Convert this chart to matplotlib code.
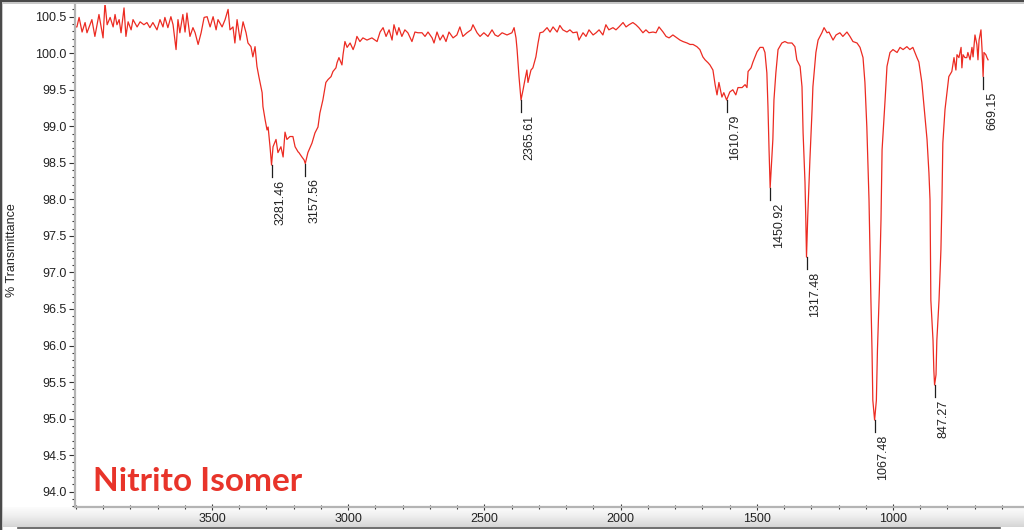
import matplotlib
matplotlib.use("Agg")
import matplotlib.pyplot as plt
from matplotlib.ticker import MultipleLocator, FixedLocator, FormatStrFormatter
from matplotlib.patches import Rectangle
from matplotlib.lines import Line2D
import numpy as np

plt.rcParams['font.family'] = ['Liberation Sans', 'DejaVu Sans']

# spectrum (cm-1, % T)
wavenumber = [
    4000, 3996, 3988, 3977, 3966, 3959, 3941, 3930, 3915, 3900, 3893, 3885, 3874, 3863, 3856, 3849,
    3841, 3834, 3823, 3816, 3808, 3797, 3790, 3775, 3764, 3750, 3739, 3728, 3717, 3702, 3691, 3680,
    3673, 3662, 3651, 3643, 3632, 3625, 3618, 3607, 3599, 3592, 3581, 3570, 3562, 3551, 3540, 3529,
    3518, 3507, 3496, 3485, 3478, 3463, 3452, 3441, 3434, 3423, 3416, 3408, 3397, 3386, 3375, 3368,
    3357, 3350, 3342, 3335, 3328, 3316, 3313, 3305, 3298, 3294, 3287, 3281.46, 3276, 3265, 3258, 3247,
    3239, 3232, 3225, 3214, 3203, 3195, 3184, 3181, 3170, 3162, 3157.56, 3148, 3133, 3122, 3111, 3104,
    3093, 3082, 3074, 3063, 3056, 3045, 3041, 3034, 3023, 3019, 3012, 3004, 2993, 2982, 2975, 2968,
    2957, 2946, 2931, 2913, 2894, 2883, 2872, 2861, 2850, 2839, 2832, 2821, 2814, 2803, 2792, 2781,
    2766, 2755, 2744, 2729, 2718, 2707, 2692, 2685, 2674, 2663, 2652, 2641, 2630, 2615, 2601, 2590,
    2579, 2564, 2549, 2542, 2527, 2516, 2502, 2487, 2472, 2461, 2450, 2435, 2417, 2399, 2391, 2384,
    2380, 2373, 2369, 2365.61, 2358, 2351, 2344, 2340, 2329, 2322, 2311, 2303, 2296, 2285, 2270, 2259,
    2248, 2233, 2223, 2212, 2197, 2186, 2175, 2160, 2153, 2138, 2127, 2116, 2101, 2090, 2079, 2065,
    2054, 2043, 2028, 2017, 2006, 1991, 1980, 1969, 1955, 1944, 1933, 1918, 1907, 1896, 1881, 1870,
    1859, 1844, 1833, 1822, 1808, 1793, 1782, 1771, 1756, 1745, 1734, 1720, 1709, 1698, 1690, 1679,
    1672, 1661, 1653, 1646, 1639, 1628, 1621, 1610.79, 1599, 1588, 1577, 1569, 1554, 1543, 1536, 1532,
    1521, 1514, 1499, 1488, 1477, 1470, 1463, 1459, 1455, 1450.92, 1448, 1441, 1437, 1430, 1422, 1408,
    1397, 1386, 1371, 1360, 1353, 1341, 1334, 1330, 1323, 1320, 1317.48, 1313, 1305, 1297, 1294, 1283,
    1275, 1261, 1253, 1242, 1235, 1220, 1209, 1195, 1184, 1169, 1158, 1147, 1132, 1121, 1110, 1103,
    1096, 1088, 1081, 1077, 1074, 1067.48, 1061, 1057, 1050, 1044, 1040, 1029, 1022, 1011, 1000, 985,
    974, 963, 949, 938, 927, 912, 905, 894, 886, 875, 868, 864, 861, 853, 850, 847.27,
    842, 839, 831, 824, 820, 817, 809, 802, 795, 784, 776, 769, 765, 758, 750, 747,
    743, 736, 729, 725, 717, 710, 706, 699, 692, 688, 684, 677, 673, 669.15, 666, 659,
    655, 651,
]
transmittance = [
    100.36, 100.36, 100.49, 100.29, 100.42, 100.28, 100.46, 100.23, 100.53, 100.21, 100.69, 100.39, 100.49, 100.36, 100.53, 100.39,
    100.46, 100.28, 100.62, 100.23, 100.43, 100.32, 100.46, 100.36, 100.43, 100.39, 100.42, 100.35, 100.42, 100.32, 100.46, 100.36,
    100.49, 100.35, 100.50, 100.39, 100.05, 100.46, 100.28, 100.53, 100.29, 100.55, 100.23, 100.35, 100.28, 100.12, 100.28, 100.49,
    100.50, 100.36, 100.50, 100.32, 100.46, 100.36, 100.46, 100.60, 100.32, 100.36, 100.14, 100.46, 100.18, 100.43, 100.28, 100.14,
    100.09, 99.95, 100.09, 99.82, 99.68, 99.46, 99.27, 99.09, 98.95, 98.99, 98.72, 98.47, 98.72, 98.82, 98.64, 98.72,
    98.58, 98.92, 98.82, 98.86, 98.86, 98.72, 98.65, 98.64, 98.58, 98.54, 98.49, 98.64, 98.77, 98.91, 98.99, 99.18,
    99.36, 99.60, 99.64, 99.68, 99.75, 99.80, 99.87, 99.94, 99.84, 99.98, 100.16, 100.08, 100.14, 100.05, 100.12, 100.23,
    100.16, 100.21, 100.18, 100.21, 100.16, 100.29, 100.35, 100.23, 100.32, 100.18, 100.39, 100.25, 100.35, 100.23, 100.32, 100.28,
    100.16, 100.29, 100.28, 100.28, 100.23, 100.29, 100.21, 100.14, 100.29, 100.18, 100.25, 100.16, 100.29, 100.21, 100.25, 100.36,
    100.23, 100.28, 100.32, 100.39, 100.28, 100.23, 100.28, 100.23, 100.32, 100.25, 100.23, 100.28, 100.25, 100.28, 100.35, 100.21,
    100.05, 99.68, 99.50, 99.36, 99.50, 99.64, 99.77, 99.60, 99.77, 99.80, 99.95, 100.14, 100.28, 100.29, 100.35, 100.29,
    100.36, 100.29, 100.38, 100.32, 100.29, 100.32, 100.28, 100.29, 100.18, 100.28, 100.23, 100.32, 100.25, 100.28, 100.32, 100.25,
    100.39, 100.32, 100.35, 100.32, 100.36, 100.42, 100.36, 100.39, 100.42, 100.39, 100.35, 100.28, 100.32, 100.28, 100.29, 100.28,
    100.36, 100.29, 100.23, 100.21, 100.25, 100.21, 100.18, 100.16, 100.14, 100.12, 100.12, 100.09, 100.05, 99.95, 99.91, 99.87,
    99.84, 99.77, 99.57, 99.43, 99.60, 99.40, 99.46, 99.36, 99.47, 99.50, 99.43, 99.53, 99.53, 99.57, 99.53, 99.75,
    99.80, 99.88, 100.02, 100.08, 100.08, 100.01, 99.73, 99.27, 98.68, 98.16, 98.36, 98.82, 99.36, 99.73, 100.05, 100.14,
    100.16, 100.14, 100.14, 100.09, 99.91, 99.82, 99.54, 98.91, 98.23, 97.72, 97.21, 97.76, 98.54, 99.23, 99.54, 100.01,
    100.18, 100.28, 100.35, 100.28, 100.29, 100.18, 100.25, 100.28, 100.23, 100.29, 100.23, 100.16, 100.14, 100.08, 99.94, 99.60,
    98.99, 97.99, 96.62, 95.94, 95.25, 94.98, 95.25, 95.94, 96.76, 97.72, 98.68, 99.36, 99.82, 100.01, 100.05, 100.01,
    100.08, 100.05, 100.09, 100.05, 100.08, 99.94, 99.88, 99.60, 99.27, 98.82, 98.36, 97.99, 96.62, 96.07, 95.66, 95.46,
    95.60, 96.07, 96.62, 97.31, 98.03, 98.77, 99.23, 99.46, 99.68, 99.75, 99.94, 99.77, 99.98, 99.94, 100.08, 99.80,
    99.98, 99.94, 99.94, 100.01, 99.91, 100.08, 99.95, 100.25, 100.12, 99.91, 100.18, 100.32, 100.05, 99.68, 100.01, 99.98,
    99.94, 99.91,
]

peak_wavenumber = [3281.46, 3157.56, 2365.61, 1610.79, 1450.92, 1317.48, 1067.48, 847.27, 669.15]
peak_labels = ['3281.46', '3157.56', '2365.61', '1610.79', '1450.92', '1317.48', '1067.48', '847.27', '669.15']
x_ticks = [3500, 3000, 2500, 2000, 1500, 1000]

W, H = 1024, 530
fig = plt.figure(figsize=(W / 100, H / 100), dpi=100)
fig.patch.set_facecolor('white')


def fx(px):
    return px / W


def fy(py):
    return 1 - py / H


# bottom strip with a soft grey gradient (window chrome)
bg = fig.add_axes([0, fy(527), 1, (527 - 507) / H], zorder=0)
grad = np.linspace(0, 1, 50).reshape(-1, 1)
bg.imshow(grad, aspect='auto', cmap='Greys', vmin=-0.1, vmax=4, extent=[0, 1, 0, 1], origin='upper')
bg.set_axis_off()

ax = fig.add_axes([fx(75), fy(507), fx(1024) - fx(75), fy(5) - fy(507)], zorder=1)
ax.plot(wavenumber, transmittance, color='#ec2b22', lw=0.9)

lookup = dict(zip(wavenumber, transmittance))
for w, lab in zip(peak_wavenumber, peak_labels):
    t = lookup[w]
    ax.plot([w, w], [t, t - 0.165], color='#1e1e1e', lw=0.9)
    ax.annotate(lab, xy=(w, t - 0.165), xytext=(2.0, -2.0), textcoords='offset points',
                rotation=90, ha='left', va='top', fontsize=9, color='#222222')

ax.set_xlim(4003, 519)
ax.set_ylim(93.79, 100.66)
ax.xaxis.set_major_locator(FixedLocator(x_ticks))
ax.xaxis.set_minor_locator(MultipleLocator(100))
ax.yaxis.set_major_locator(MultipleLocator(0.5))
ax.yaxis.set_minor_locator(MultipleLocator(0.1))
ax.yaxis.set_major_formatter(FormatStrFormatter('%.1f'))

for s in ['top', 'right']:
    ax.spines[s].set_visible(False)
for s in ['left', 'bottom']:
    ax.spines[s].set_color('#b4b4b4')
    ax.spines[s].set_linewidth(1.6)

ax.tick_params(axis='y', which='major', direction='out', length=4, width=0.8, color='#333333',
               labelsize=9, labelcolor='#222222', pad=2)
ax.tick_params(axis='y', which='minor', direction='out', length=2.5, width=0.8, color='#333333')
ax.tick_params(axis='x', which='major', direction='inout', length=5, width=0.8, color='#333333',
               labelsize=9, labelcolor='#222222', pad=2)
ax.tick_params(axis='x', which='minor', direction='inout', length=3, width=0.8, color='#333333')

fig.text(fx(12), fy(250), '% Transmittance', rotation=90, ha='center', va='center',
         fontsize=9, color='#222222')

fig.text(fx(93), fy(491), 'Nitrito Isomer', ha='left', va='baseline', fontsize=24,
         fontweight='bold', family=['Lato', 'DejaVu Sans'], color='#e8342a', zorder=5)

# window frame lines
fig.add_artist(Rectangle((0, fy(2)), 1, 2 / H, transform=fig.transFigure, color='#4a4a4a', lw=0))
fig.add_artist(Rectangle((0, fy(4)), 1, 2 / H, transform=fig.transFigure, color='#c8c8c8', lw=0))
fig.add_artist(Rectangle((0, 0), 2 / W, 1, transform=fig.transFigure, color='#4a4a4a', lw=0))
fig.add_artist(Rectangle((fx(2), 0), 1 / W, fy(3), transform=fig.transFigure, color='#c8c8c8', lw=0))
fig.add_artist(Line2D([fx(18), fx(1000)], [fy(527.5), fy(527.5)], transform=fig.transFigure,
                      color='#555555', lw=1.2))

fig.savefig('out.png', dpi=100)
